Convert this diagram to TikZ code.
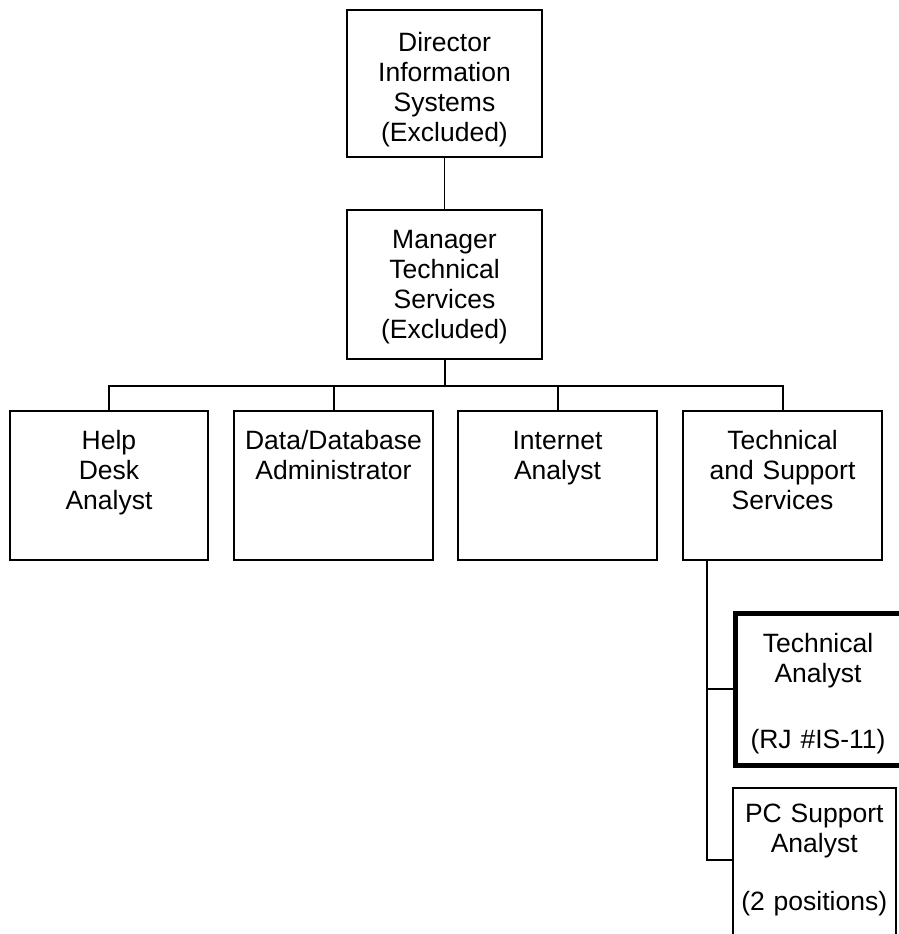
\documentclass[tikz,border=0pt]{standalone}
\usepackage{fontspec}
\setmainfont{Liberation Sans}
\begin{document}
\begin{tikzpicture}[x=1pt,y=-1pt,
  box/.style={draw, line width=2pt, inner sep=0pt, outer sep=0pt, align=center, anchor=north,
    font=\fontsize{26.5}{30}\selectfont},
  child/.style={box, text height=38pt, text depth=111pt},
  conn/.style={line width=2pt},
  thinconn/.style={line width=1pt}]
\clip (0,0) rectangle (899,934);
% boxes
\node[box, text width=195pt, text height=42pt, text depth=105pt] (dir) at (444.5,10)
  {Director\\Information\\Systems\\(Excluded)};
\node[box, text width=195pt, text height=38pt, text depth=111pt] (mgr) at (444.5,210)
  {Manager\\Technical\\Services\\(Excluded)};
\node[child, text width=198pt] (help) at (109,411) {Help\\Desk\\Analyst};
\node[child, text width=199pt] (data) at (333.5,411) {Data/Database\\Administrator};
\node[child, text width=199pt] (inet) at (557.5,411) {Internet\\Analyst};
\node[child, text width=199pt] (ts) at (782.5,411) {Technical\\and Support\\Services};
\node[box, line width=5pt, text width=166pt, text height=39pt, text depth=113pt] (ta) at (818,613)
  {Technical\\Analyst\\[36pt](RJ \#IS-11)};
\node[box, text width=163.5pt, text height=34.5pt, text depth=160pt] (pc) at (814.25,787.5)
  {PC Support\\Analyst\\[28pt](2 positions)};
% helper coordinates
\coordinate (busy) at (0,385.5);
\coordinate (tsx) at (706.5,0);
\coordinate (pcb) at (732.5,860);
% connectors
\draw[thinconn] (dir.south) -- (mgr.north);
\draw[conn] (mgr.south) -- (mgr.south |- busy);
\draw[conn] (help.north) |- (ts.north |- busy) -- (ts.north);
\draw[conn] (data.north) -- (data.north |- busy);
\draw[conn] (inet.north) -- (inet.north |- busy);
\draw[conn] (ts.south -| tsx) |- (pcb);
\draw[conn] (ta.west -| tsx) -- (ta.west);
\end{tikzpicture}
\end{document}
